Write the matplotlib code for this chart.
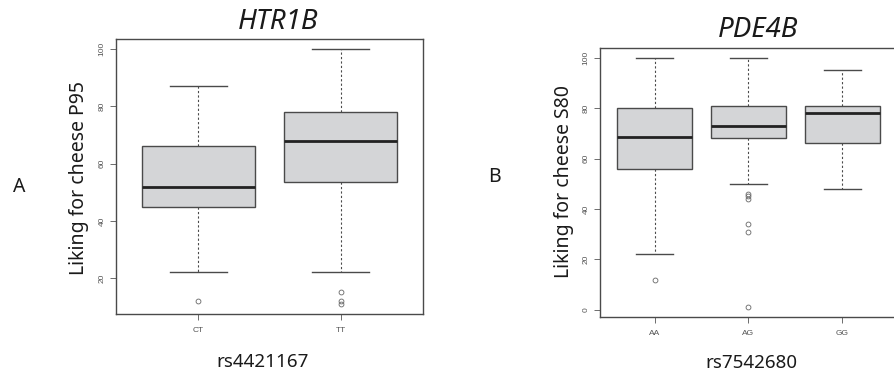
import numpy as np
import matplotlib
matplotlib.use("Agg")
import matplotlib.pyplot as plt

plt.rcParams['font.family'] = ['Noto Sans', 'DejaVu Sans']

# panel A: HTR1B, rs4421167
geno_a = ['CT', 'TT']
med_a = [52, 68]
q1_a = [45, 53.5]
q3_a = [66, 78]
lo_a = [22, 22]
hi_a = [87, 100]
out_a = [[12], [15, 12, 11]]

# panel B: PDE4B, rs7542680
geno_b = ['AA', 'AG', 'GG']
med_b = [68.5, 73, 78]
q1_b = [56, 68, 66]
q3_b = [80, 81, 81]
lo_b = [22, 50, 48]
hi_b = [100, 100, 95]
out_b = [[12], [46, 45, 44, 34, 31, 1], []]

box_face = '#d4d5d7'
edge = '#4a4a4a'
tick_col = '#555555'


def make_stats(med, q1, q3, lo, hi, out):
    stats = []
    for i in range(len(med)):
        stats.append({'med': med[i], 'q1': q1[i], 'q3': q3[i],
                      'whislo': lo[i], 'whishi': hi[i],
                      'fliers': np.array(out[i], dtype=float)})
    return stats


def draw_panel(ax, stats, labels, yticks):
    ax.bxp(stats, widths=0.8, patch_artist=True, showfliers=True,
           boxprops=dict(facecolor=box_face, edgecolor=edge, linewidth=1.0),
           medianprops=dict(color='#222222', linewidth=2.0),
           whiskerprops=dict(color=edge, linewidth=0.8, linestyle=(0, (2, 2))),
           capprops=dict(color=edge, linewidth=1.0),
           flierprops=dict(marker='o', markerfacecolor='none',
                           markeredgecolor='#666666', markersize=3.5,
                           markeredgewidth=0.6))
    n = len(stats)
    ax.set_xlim(0.42, n + 0.58)
    vals = []
    for s in stats:
        vals += [s['whislo'], s['whishi']] + list(s['fliers'])
    vmin, vmax = min(vals), max(vals)
    pad = 0.04 * (vmax - vmin)
    ax.set_ylim(vmin - pad, vmax + pad)
    ax.set_xticks(range(1, n + 1))
    ax.set_xticklabels(labels, family='Liberation Sans')
    ax.set_yticks(yticks)
    ax.set_yticklabels([str(t) for t in yticks], rotation=90, va='center',
                       family='Liberation Sans')
    ax.tick_params(axis='both', direction='out', length=4.5, width=0.6,
                   color=tick_col, labelcolor=tick_col, labelsize=6, pad=3)
    ax.tick_params(axis='x', pad=5)
    for sp in ax.spines.values():
        sp.set_color(edge)
        sp.set_linewidth(1.0)


fig = plt.figure(figsize=(8.95, 3.75), dpi=100)

ax1 = fig.add_axes([0.1296, 0.1627, 0.343, 0.7333])
draw_panel(ax1, make_stats(med_a, q1_a, q3_a, lo_a, hi_a, out_a), geno_a,
           [20, 40, 60, 80, 100])

ax2 = fig.add_axes([0.6704, 0.1539, 0.3318, 0.719])
draw_panel(ax2, make_stats(med_b, q1_b, q3_b, lo_b, hi_b, out_b), geno_b,
           [0, 20, 40, 60, 80, 100])

# titles, axis labels and panel letters
fig.text(277.7 / 895, 1 - 21.7 / 375, 'HTR1B', style='italic', fontsize=20,
         ha='center', va='center', color='#1a1a1a')
fig.text(758 / 895, 1 - 30 / 375, 'PDE4B', style='italic', fontsize=20,
         ha='center', va='center', color='#1a1a1a')

fig.text(79 / 895, 1 - 178 / 375, 'Liking for cheese P95', rotation=90,
         fontsize=14, ha='center', va='center', color='#1a1a1a')
fig.text(564 / 895, 1 - 182 / 375, 'Liking for cheese S80', rotation=90,
         fontsize=14, ha='center', va='center', color='#1a1a1a')

fig.text(262.7 / 895, 1 - 361.7 / 375, 'rs4421167', fontsize=13.5,
         ha='center', va='center', color='#1a1a1a')
fig.text(751 / 895, 1 - 363.3 / 375, 'rs7542680', fontsize=13.5,
         ha='center', va='center', color='#1a1a1a')

fig.text(19 / 895, 1 - 187 / 375, 'A', fontsize=14, ha='center', va='center',
         color='#1a1a1a')
fig.text(494 / 895, 1 - 177 / 375, 'B', fontsize=14, ha='center', va='center',
         color='#1a1a1a')

fig.savefig('out.png', dpi=100)
